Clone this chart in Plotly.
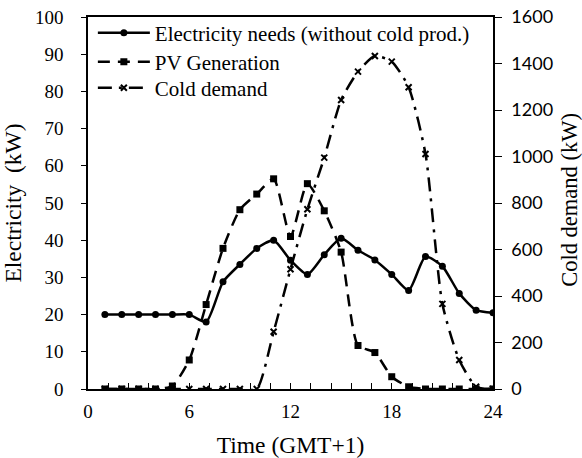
import plotly.graph_objects as go

hours = list(range(1, 25))
electricity = [20, 20, 20, 20, 20, 20, 18, 28.8, 33.5, 37.8, 40, 34.6, 30.8, 36.1, 40.5, 37.3, 34.7, 30.8, 26.5, 35.6, 33, 25.7, 21.2, 20.5]
pv = [0, 0, 0, 0, 0.8, 7.8, 22.7, 37.8, 48.2, 52.4, 56.5, 41, 55.2, 47.9, 36.8, 11.7, 9.8, 3.3, 0.6, 0, 0, 0, 0, 0]
cold = [0, 0, 0, 0, 0, 0, 0, 0, 0, 0, 246, 515, 773, 995, 1243, 1365, 1432, 1408, 1298, 1011, 366, 125, 10, 0]

x_ticks = [0, 6, 12, 18, 24]
left_ticks = [0, 10, 20, 30, 40, 50, 60, 70, 80, 90, 100]
right_ticks = [0, 200, 400, 600, 800, 1000, 1200, 1400, 1600]

serif = "Liberation Serif, Times New Roman, serif"
sans = "Lato, Calibri, sans-serif"

fig = go.Figure()
fig.add_trace(go.Scatter(
    x=hours, y=electricity, name="Electricity needs (without cold prod.)", legend="legend",
    mode="lines+markers", line=dict(color="black", width=2.5, shape="spline", smoothing=0.6),
    marker=dict(symbol="circle", size=7, color="black")))
fig.add_trace(go.Scatter(
    x=hours, y=pv, name="PV Generation", legend="legend2",
    mode="lines+markers", line=dict(color="black", width=2.5, dash="12px,8px", shape="spline", smoothing=0.6),
    marker=dict(symbol="square", size=7, color="black")))
fig.add_trace(go.Scatter(
    x=hours, y=cold, name="Cold demand", yaxis="y2", legend="legend3",
    mode="lines+markers", line=dict(color="black", width=2.5, dash="14px,7px,3px,7px", shape="spline", smoothing=0.6),
    marker=dict(symbol="x-thin", size=6, color="black", line=dict(width=2, color="black"))))

leg_common = dict(x=0.012, xanchor="left", yanchor="middle", bgcolor="rgba(0,0,0,0)",
                  font=dict(family=serif, size=21, color="black"), itemwidth=52)

fig.update_layout(
    width=582, height=458,
    margin=dict(l=88, r=89, t=17, b=69, autoexpand=False),
    paper_bgcolor="white", plot_bgcolor="white",
    font=dict(family=serif, size=19, color="black"),
    showlegend=True,
    legend=dict(y=0.957, **leg_common),
    legend2=dict(y=0.879, **leg_common),
    legend3=dict(y=0.809, **leg_common),
    xaxis=dict(range=[0, 24], tickvals=x_ticks, ticktext=[str(v) for v in x_ticks],
               showgrid=False, zeroline=False, showline=True, linecolor="black", linewidth=1.5,
               mirror=True, ticks="inside", ticklen=6, tickcolor="black",
               minor=dict(dtick=1.2, ticks="inside", ticklen=6, tickcolor="black", showgrid=False),
               ticklabelstandoff=4, ticklabeloverflow="allow",
               title=dict(text="Time (GMT+1)", font=dict(family=serif, size=23.5), standoff=17),
               tickfont=dict(family=serif, size=19)),
    yaxis=dict(range=[0, 100], tickvals=left_ticks, showgrid=False, zeroline=False,
               showline=True, linecolor="black", linewidth=1.5, mirror=True,
               ticks="outside", ticklen=5, tickcolor="black", ticklabelstandoff=14,
               ticklabeloverflow="allow",
               title=dict(text="Electricity\u00a0 (kW)", font=dict(family=serif, size=23.5), standoff=16),
               tickfont=dict(family=serif, size=19)),
    yaxis2=dict(range=[0, 1600], tickvals=right_ticks, overlaying="y", side="right",
                showgrid=False, zeroline=False, showline=True, linecolor="black", linewidth=1.5,
                ticks="outside", ticklen=7, tickcolor="black", ticklabelstandoff=6,
                ticklabeloverflow="allow",
                tickfont=dict(family=sans, size=18)),
    annotations=[dict(text="Cold demand (kW)", xref="paper", yref="paper", x=1.187, y=0.508,
                      xanchor="center", yanchor="middle", textangle=-90, showarrow=False,
                      font=dict(family=serif, size=22.5, color="black"))],
)

fig.write_html("out.html", config={"displayModeBar": False},
               post_script="document.body.style.margin='0px';")
